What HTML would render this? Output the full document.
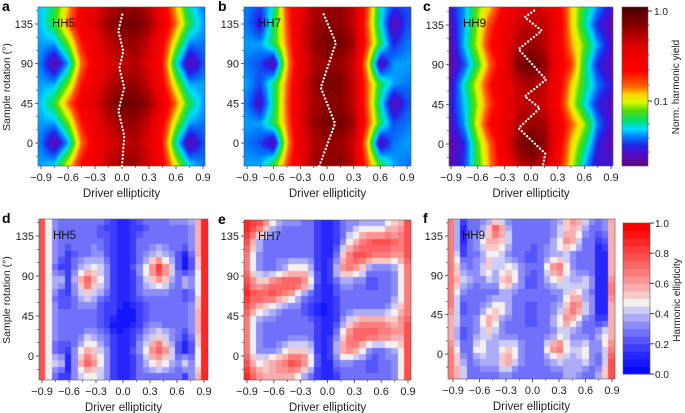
<!DOCTYPE html>
<html><head><meta charset="utf-8">
<style>
body{margin:0;background:#fff;}
#wrap{position:relative;width:685px;height:413px;overflow:hidden;font-family:"Liberation Sans",sans-serif;}
canvas{position:absolute;}
svg{position:absolute;left:0;top:0;}
</style></head>
<body>
<div id="wrap">
<svg id="ov" width="685" height="413"></svg>
</div>
<script>
// ---------- data ----------
const topCols=[-0.9,-0.75,-0.6,-0.45,-0.3,-0.15,0,0.15,0.3,0.45,0.6,0.75,0.9];
const topRows=[157.5,135,112.5,90,67.5,45,22.5,0,-22.5];
const yieldHH5=[
[.22,.3,.45,.62,.72,.8,.85,.85,.8,.65,.45,.25,.18],
[.22,.32,.5,.66,.76,.86,.92,.93,.86,.7,.5,.3,.2],
[.2,.2,.35,.58,.7,.8,.85,.86,.78,.62,.38,.18,.18],
[.18,.04,.2,.5,.66,.75,.8,.82,.74,.58,.25,.04,.15],
[.2,.2,.35,.58,.7,.8,.86,.86,.78,.62,.38,.2,.2],
[.22,.32,.5,.66,.76,.86,.93,.93,.86,.7,.5,.3,.2],
[.2,.2,.35,.58,.7,.8,.86,.86,.78,.62,.38,.2,.18],
[.18,.04,.2,.5,.66,.75,.8,.82,.74,.58,.25,.04,.15],
[.2,.22,.4,.6,.7,.8,.85,.85,.78,.62,.4,.22,.18]];
const yieldHH7=[
[.18,.15,.25,.55,.72,.82,.86,.86,.8,.55,.25,.15,.15],
[.18,.1,.3,.52,.74,.84,.88,.88,.8,.52,.25,.05,.15],
[.2,.2,.3,.5,.74,.86,.92,.92,.84,.55,.3,.12,.18],
[.18,.15,.05,.45,.7,.82,.86,.86,.78,.45,.05,.2,.2],
[.2,.15,.28,.5,.74,.86,.92,.9,.8,.52,.3,.2,.18],
[.18,.08,.28,.52,.74,.84,.88,.88,.8,.52,.25,.05,.15],
[.2,.2,.3,.5,.74,.86,.92,.92,.84,.55,.3,.15,.18],
[.18,.15,.05,.45,.7,.82,.86,.86,.78,.45,.05,.18,.2],
[.2,.2,.3,.52,.72,.84,.88,.88,.8,.52,.3,.2,.18]];
const yieldHH9=[
[.1,.2,.35,.45,.62,.72,.78,.75,.65,.45,.3,.2,.1],
[.08,.2,.38,.55,.68,.78,.82,.8,.68,.45,.28,.12,.05],
[.05,.22,.4,.6,.7,.82,.86,.82,.66,.48,.35,.2,.08],
[.04,.15,.32,.52,.68,.9,.94,.88,.66,.55,.3,.12,.05],
[.08,.25,.42,.6,.7,.8,.84,.8,.66,.45,.3,.18,.1],
[.1,.22,.38,.55,.68,.78,.82,.78,.62,.42,.25,.12,.06],
[.08,.2,.42,.62,.7,.82,.86,.84,.68,.52,.38,.18,.08],
[.04,.12,.34,.52,.7,.88,.94,.88,.66,.45,.3,.12,.04],
[.06,.14,.32,.5,.66,.8,.86,.8,.62,.42,.22,.08,.1]];
// peak (dotted line) positions
const peakY_HH5=[-26,8,36.5,63,85,104,127,149];
const peakX_HH5=[0,0.025,-0.04,0.025,-0.03,0.015,-0.04,0.01];
const peakY_HH7=[-26,22,63,113.6,149];
const peakX_HH7=[-0.086,0.09,-0.07,0.10,-0.05];
const peakY_HH9=[-27,-10.8,17.9,40.7,54,73,107.5,128.5,143.8,153];
const peakX_HH9=[0.13,0.16,-0.14,0.10,-0.07,0.17,-0.14,0.12,-0.07,0.06];
// harmonic ellipticity grids (tenths)
const botCols=[-0.9,-0.8,-0.7,-0.6,-0.5,-0.4,-0.3,-0.2,-0.1,0,0.1,0.2,0.3,0.4,0.5,0.6,0.7,0.8,0.9];
const botRows=[157.5,142.5,127.5,112.5,97.5,82.5,67.5,52.5,37.5,22.5,7.5,-7.5,-22.5];
const ellHH5=[
[8,4,3,3,3,3,3,3,2,1,2,3,3,3,3,4,4,5,9],
[8,4,3,3,3,3,3,2,2,1,2,2,3,3,3,3,3,4,9],
[8,4,3,3,3,3,3,3,2,1,2,3,3,3,3,3,3,4,9],
[8,4,3,2,3,3,4,3,2,1,2,3,4,5,4,3,1,4,9],
[8,4,2,2,4,5,5,4,2,1,2,4,6,9,6,3,1,3,9],
[8,4,5,2,5,8,6,4,2,1,2,3,5,6,5,3,5,3,9],
[8,4,2,2,4,5,4,3,2,1,2,3,3,3,3,3,2,3,9],
[8,4,3,3,3,3,3,2,2,1,1,2,3,3,3,3,3,4,9],
[8,4,3,3,3,3,3,2,1,1,1,2,3,3,3,3,3,4,9],
[8,4,3,3,3,4,4,3,2,1,2,3,4,5,4,3,2,4,9],
[8,4,2,2,4,6,5,4,2,1,2,4,6,8,6,3,1,3,9],
[8,4,5,1,5,8,6,4,2,1,2,3,5,6,5,3,5,3,9],
[8,4,2,2,4,5,5,4,2,1,2,3,3,3,3,3,2,4,9]];
const ellHH7=[
[9,9,8,6,4,4,4,3,2,1,2,3,3,3,3,3,4,5,8],
[9,8,6,4,3,3,3,3,2,1,2,3,4,5,5,5,6,6,8],
[8,5,3,3,3,3,3,3,2,1,2,4,6,7,8,8,8,7,8],
[7,4,3,3,3,3,3,3,2,1,3,6,8,8,7,7,7,6,8],
[7,4,3,3,4,5,5,5,2,1,4,7,7,5,3,3,3,4,7],
[8,6,6,7,8,8,8,6,2,1,3,4,3,3,2,3,3,4,7],
[9,8,8,8,7,6,4,3,2,1,2,3,3,3,3,3,3,4,7],
[8,6,5,4,3,3,3,2,1,1,2,3,3,3,3,3,4,5,7],
[7,4,3,3,3,3,3,3,2,1,2,4,6,7,7,7,6,6,8],
[7,4,3,3,3,3,3,3,2,1,3,6,8,8,8,7,7,6,8],
[7,4,3,3,4,5,5,5,2,1,4,7,7,5,3,3,4,4,8],
[8,5,5,6,7,8,8,6,2,1,3,4,3,3,2,3,3,4,8],
[9,7,6,6,6,6,5,3,2,1,2,3,3,3,3,3,3,4,8]];
const ellHH9=[
[7,2,3,3,3,4,3,3,3,3,3,3,4,5,8,5,3,3,6],
[7,1,3,3,5,8,5,3,3,3,3,3,4,6,6,4,3,3,6],
[7,1,3,4,6,6,5,3,3,3,3,3,5,7,5,3,3,1,6],
[7,2,3,3,5,5,4,3,3,2,3,4,4,4,3,3,3,0,6],
[7,4,3,4,6,4,5,5,3,3,3,6,8,5,3,3,3,0,6],
[7,5,4,3,4,4,7,5,3,2,3,4,5,4,4,5,3,0,7],
[7,3,3,3,3,3,4,3,3,3,3,3,3,5,6,4,3,0,7],
[7,2,3,3,4,6,5,3,3,2,3,3,4,6,8,5,3,0,6],
[6,3,3,4,7,5,3,3,3,2,3,3,5,7,5,3,3,1,6],
[6,2,3,4,5,4,3,3,3,3,3,3,4,4,3,3,3,5,6],
[7,3,3,6,4,4,5,5,3,3,3,6,8,5,4,5,3,4,7],
[7,4,3,4,4,4,7,5,3,3,3,4,5,4,4,5,3,3,8],
[7,5,3,3,3,3,4,3,3,3,3,3,3,4,4,3,3,5,8]];
const xTicks=[-0.9,-0.6,-0.3,0.0,0.3,0.6,0.9];
const yTicks=[0,45,90,135];
const yieldTickVals=[1.0,0.1];
const ellTickVals=[0.0,0.2,0.4,0.6,0.8,1.0];

// ---------- helpers ----------
const NS="http://www.w3.org/2000/svg";
const svg=document.getElementById('ov');
const wrap=document.getElementById('wrap');
function mk(tag,attrs,parent){const e=document.createElementNS(NS,tag);for(const k in attrs)e.setAttribute(k,attrs[k]);(parent||svg).appendChild(e);return e;}
function txt(s,x,y,attrs){const t=mk('text',Object.assign({x:x,y:y,'font-size':11,fill:'#222'},attrs||{}));t.textContent=s;return t;}
function sample(grid,cols,rows,x,y){
  let i=0;while(i<cols.length-2&&x>cols[i+1])i++;
  let j=0;while(j<rows.length-2&&y<rows[j+1])j++;
  let fx=(x-cols[i])/(cols[i+1]-cols[i]);fx=Math.max(0,Math.min(1,fx));
  let fy=(rows[j]-y)/(rows[j]-rows[j+1]);fy=Math.max(0,Math.min(1,fy));
  const a=grid[j][i],b=grid[j][i+1],c=grid[j+1][i],d=grid[j+1][i+1];
  return a*(1-fx)*(1-fy)+b*fx*(1-fy)+c*(1-fx)*fy+d*fx*fy;
}
const jetStops=[[0,[96,0,128]],[0.06,[90,10,190]],[0.12,[40,30,230]],[0.18,[0,120,255]],[0.23,[0,220,255]],[0.28,[0,225,120]],[0.35,[90,220,0]],[0.4,[220,250,0]],[0.45,[255,210,0]],[0.5,[255,100,0]],[0.6,[255,0,0]],[0.75,[225,0,0]],[0.88,[140,0,0]],[1,[70,0,0]]];
function jet(v){v=Math.max(0,Math.min(1,v));for(let k=0;k<jetStops.length-1;k++){const[a,ca]=jetStops[k],[b,cb]=jetStops[k+1];if(v<=b){const f=(v-a)/(b-a);return ca.map((c,i)=>Math.round(c+(cb[i]-c)*f));}}return jetStops[jetStops.length-1][1];}
function bwr(v){v=Math.max(0,Math.min(1,Math.round(v*20)/20));if(v<0.5){const f=Math.pow(v/0.5,1.5);return[Math.round(240*f),Math.round(240*f),Math.round(255-10*f)];}const f=Math.pow((v-0.5)/0.5,0.8);return[Math.round(245+10*f),Math.round(240*(1-f)),Math.round(240*(1-f))];}

function axes(P,name){
  const g=mk('g',{});
  
  
  const sx=v=>P.x0+(v+0.9)/1.8*(P.x1-P.x0);
  const sy=v=>P.y0+(135-v)/135*(P.y1-P.y0);
  P.sx=sx;P.sy=sy;
  mk('rect',{x:P.L,y:P.T,width:P.R-P.L,height:P.B-P.T,fill:'none',stroke:'#555','stroke-width':0.6},g);
  xTicks.forEach(v=>{const x=sx(v);mk('line',{x1:x,x2:x,y1:P.B,y2:P.B+3,stroke:'#333','stroke-width':0.8},g);
    const t=txt((v<0?'\u2212':'')+Math.abs(v).toFixed(1),x,P.B+15,{'text-anchor':'middle'});g.appendChild(t);});
  for(let v=-0.75;v<0.9;v+=0.3){const x=sx(v);mk('line',{x1:x,x2:x,y1:P.B,y2:P.B+2,stroke:'#333','stroke-width':0.6},g);}
  yTicks.forEach(v=>{const y=sy(v);mk('line',{x1:P.L-3,x2:P.L,y1:y,y2:y,stroke:'#333','stroke-width':0.8},g);
    const t=txt(String(v),P.L-5,y+4,{'text-anchor':'end'});g.appendChild(t);});
  for(let v=-15;v<155;v+=15){if(v%45===0)continue;const y=sy(v);mk('line',{x1:P.L-2,x2:P.L,y1:y,y2:y,stroke:'#333','stroke-width':0.6},g);}
  const xl=txt('Driver ellipticity',(P.L+P.R)/2,P.B+31,{'text-anchor':'middle','font-size':11.5});
  g.appendChild(xl);
  const pl=txt(P.letter,P.lx,P.T+4,{'font-weight':'bold','font-size':14,fill:'#000'});
  g.appendChild(pl);
  const hh=txt(P.hh,P.L+14,P.T+20,{'font-size':11.5,fill:'#111'});
  g.appendChild(hh);
}
function makeCanvas(P,name){
  const c=document.createElement('canvas');
  
  
  c.width=P.R-P.L;c.height=P.B-P.T;c.style.left=P.L+'px';c.style.top=P.T+'px';
  wrap.insertBefore(c,svg);return c;
}
function drawTop(P,grid,px,py,name){
  axes(P,name);
  const c=makeCanvas(P,name+'-heatmap');const ctx=c.getContext('2d');
  const img=ctx.createImageData(c.width,c.height);
  const ix=X=>(X-P.x0)/(P.x1-P.x0)*1.8-0.9, iy=Y=>135-(Y-P.y0)/(P.y1-P.y0)*135;
  for(let j=0;j<c.height;j++)for(let i=0;i<c.width;i++){
    const v=sample(grid,topCols,topRows,ix(P.L+i+0.5),iy(P.T+j+0.5));const col=jet(v);const k=(j*c.width+i)*4;
    img.data[k]=col[0];img.data[k+1]=col[1];img.data[k+2]=col[2];img.data[k+3]=255;}
  ctx.putImageData(img,0,0);
  const pts=py.map((y,k)=>P.sx(px[k]).toFixed(1)+','+P.sy(y).toFixed(1)).join(' ');
  const l=mk('polyline',{points:pts,fill:'none',stroke:'#fff','stroke-width':2.4,'stroke-dasharray':'0 3.6','stroke-linecap':'round'});
  
}
function drawBot(P,grid,name){
  axes(P,name);
  const c=makeCanvas(P,name+'-heatmap');const ctx=c.getContext('2d');
  const nx=26,ny=25,cw=c.width/nx,ch=c.height/ny;
  const ix=X=>(X-P.x0)/(P.x1-P.x0)*1.8-0.9, iy=Y=>135-(Y-P.y0)/(P.y1-P.y0)*135;
  for(let j=0;j<ny;j++)for(let i=0;i<nx;i++){
    const v=sample(grid,botCols,botRows,ix(P.L+(i+0.5)*cw),iy(P.T+(j+0.5)*ch))/10;const col=bwr(v);
    ctx.fillStyle='rgb('+col.join(',')+')';ctx.fillRect(Math.floor(i*cw),Math.floor(j*ch),Math.ceil(cw)+1,Math.ceil(ch)+1);}
}
// ---------- panels ----------
const PA={L:38,R:205,T:7,B:166,x0:41,x1:203,y0:24,y1:143,letter:'a',lx:2,hh:'HH5'};
const PB={L:244,R:411,T:7,B:166,x0:247,x1:407,y0:24,y1:143,letter:'b',lx:218,hh:'HH7'};
const PC={L:449,R:613,T:7,B:166,x0:451,x1:611,y0:25,y1:144,letter:'c',lx:423,hh:'HH9'};
const PD={L:39,R:208,T:219,B:380,x0:42,x1:204,y0:236,y1:356,letter:'d',lx:2,hh:'HH5'};
const PE={L:244,R:411,T:220,B:380,x0:247,x1:408,y0:236,y1:356,letter:'e',lx:218,hh:'HH7'};
const PF={L:448,R:615,T:219,B:379,x0:453,x1:612,y0:236,y1:354,letter:'f',lx:423,hh:'HH9'};
drawTop(PA,yieldHH5,peakX_HH5,peakY_HH5,'panel-a');
drawTop(PB,yieldHH7,peakX_HH7,peakY_HH7,'panel-b');
drawTop(PC,yieldHH9,peakX_HH9,peakY_HH9,'panel-c');
drawBot(PD,ellHH5,'panel-d');
drawBot(PE,ellHH7,'panel-e');
drawBot(PF,ellHH9,'panel-f');
// y-axis titles
[[87,'y-axis-title-top'],[300,'y-axis-title-bottom']].forEach(([cy,n])=>{
  const t=txt('Sample rotation (\u00b0)',10,cy,{'text-anchor':'middle','font-size':10.5,transform:'rotate(-90 10 '+cy+')'});
  });
// colorbar top
(function(){
  const c=document.createElement('canvas');
  
  
  c.width=26;c.height=159;c.style.left='622px';c.style.top='7px';wrap.insertBefore(c,svg);
  const ctx=c.getContext('2d');
  for(let j=0;j<c.height;j++){const col=jet(1-j/(c.height-1));ctx.fillStyle='rgb('+col.join(',')+')';ctx.fillRect(0,j,26,1);}
  mk('rect',{x:622,y:7,width:26,height:159,fill:'none',stroke:'#555','stroke-width':0.6});
  const pos=[11,101];
  yieldTickVals.forEach((v,k)=>{mk('line',{x1:648,x2:652,y1:pos[k],y2:pos[k],stroke:'#333'});
    const t=txt(v.toFixed(1),654,pos[k]+4,{'font-size':10});});
  [25,40,55,70,85,124,138,152].forEach(y=>mk('line',{x1:648,x2:650,y1:y,y2:y,stroke:'#333','stroke-width':0.6}));
  const t=txt('Norm. harmonic yield',679,87,{'text-anchor':'middle','font-size':10,transform:'rotate(-90 679 87)'});
  
})();
// colorbar bottom
(function(){
  const T=223,B=374,h=B-T;
  const g=mk('g',{});
  
  
  for(let k=0;k<20;k++){const v=(k+0.5)/20;const col=bwr(v);mk('rect',{x:623,y:B-(k+1)*h/20,width:27,height:h/20+0.5,fill:'rgb('+col.join(',')+')'},g);}
  mk('rect',{x:623,y:T,width:27,height:h,fill:'none',stroke:'#555','stroke-width':0.6},g);
  ellTickVals.forEach(v=>{const y=B-v*h;mk('line',{x1:650,x2:654,y1:y,y2:y,stroke:'#333'},g);
    const t=txt(v.toFixed(1),655,y+4,{'font-size':10});});
  const t=txt('Harmonic ellipticity',680,300,{'text-anchor':'middle','font-size':10,transform:'rotate(-90 680 300)'});
  
})();
</script>
</body></html>
